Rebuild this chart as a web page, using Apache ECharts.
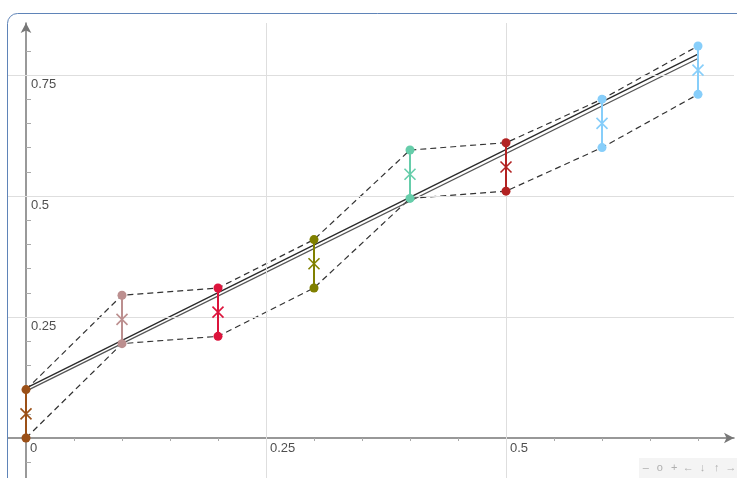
<!DOCTYPE html>
<html>
<head>
<meta charset="utf-8">
<script src="https://cdn.jsdelivr.net/npm/echarts@6/dist/echarts.min.js"></script>
<style>
html,body{margin:0;padding:0;background:#fff;}
#chart{width:737px;height:478px;}
</style>
</head>
<body>
<div id="chart"></div>
<script>
// ---- data ----
const xs    = [0, 0.1, 0.2, 0.3, 0.4, 0.5, 0.6, 0.7];
const upper = [0.1, 0.295, 0.31, 0.41, 0.595, 0.61, 0.70, 0.81];
const lower = [0, 0.195, 0.21, 0.31, 0.495, 0.51, 0.60, 0.71];
const means = [0.05, 0.245, 0.26, 0.36, 0.545, 0.56, 0.65, 0.76];
const colors = ['#9b5017', '#bc8f8f', '#dc143c', '#808000', '#66cdaa', '#b22222', '#87cefa', '#87cefa'];
const lineA = [[0, 0.103], [0.7, 0.793]];
const lineB = [[0, 0.097], [0.7, 0.784]];
const xLabels = [0, 0.25, 0.5];
const yLabels = [0.25, 0.5, 0.75];
const gridX = [0.25, 0.5];
const gridY = [0.25, 0.5, 0.75];
const xMinor = [0, 0.05, 0.1, 0.15, 0.2, 0.25, 0.3, 0.35, 0.4, 0.45, 0.5, 0.55, 0.6, 0.65, 0.7];
const yMinor = [-0.05, 0.05, 0.1, 0.15, 0.2, 0.25, 0.3, 0.35, 0.4, 0.45, 0.5, 0.55, 0.6, 0.65, 0.7, 0.75, 0.8];
const navSymbols = ['\u2013', 'o', '+', '\u2190', '\u2193', '\u2191', '\u2192'];

const upperPts = xs.map((x, i) => [x, upper[i]]);
const lowerPts = xs.map((x, i) => [x, lower[i]]);
const groups = xs.map((x, i) => [x, lower[i], upper[i], means[i]]);
const xLabelPts = xLabels.map(v => [v, 0]);
const yLabelPts = yLabels.map(v => [0, v]);

const chart = echarts.init(document.getElementById('chart'), null, {renderer: 'canvas'});
const font = "'Liberation Sans', Arial, sans-serif";

const navGraphics = [{
  type: 'rect', shape: {x: 639, y: 458, width: 100, height: 20},
  style: {fill: '#f4f4f4'}, z: 100
}].concat(navSymbols.map((s, i) => ({
  type: 'text', x: 645.7 + i * 14.2, y: 467.5, z: 101,
  style: {text: s, fill: '#b0b0b0', font: '11px ' + font, align: 'center', verticalAlign: 'middle'}
})));

const labelStyle = {color: '#222', fontSize: 13, fontFamily: font, align: 'left', verticalAlign: 'top'};

const option = {
  animation: false,
  backgroundColor: '#fff',
  grid: {left: 8, right: 3, top: 23, bottom: 0, containLabel: false, outerBoundsMode: 'none'},
  xAxis: {
    type: 'value', min: -0.01875, max: 0.7375,
    axisLine: {show: true, onZero: true, symbol: ['none', 'arrow'], symbolSize: [8, 10],
               lineStyle: {color: '#777', width: 1.5}},
    axisTick: {show: true, inside: false, length: 3, customValues: xMinor, lineStyle: {color: '#aaa'}},
    axisLabel: {show: false},
    splitLine: {show: false}
  },
  yAxis: {
    type: 'value', min: -0.0826, max: 0.8574,
    axisLine: {show: true, onZero: true, symbol: ['none', 'arrow'], symbolSize: [8, 10],
               lineStyle: {color: '#777', width: 1.5}},
    axisTick: {show: true, inside: true, length: 5, customValues: yMinor, lineStyle: {color: '#aaa'}},
    axisLabel: {show: false},
    splitLine: {show: false}
  },
  graphic: [{
    type: 'rect', shape: {x: 7.5, y: 13.5, width: 900, height: 700, r: 10},
    style: {fill: 'none', stroke: '#5f84b8', lineWidth: 1}, z: 100, silent: true
  }].concat(navGraphics),
  series: [
    {
      type: 'line', data: [], z: 1, silent: true,
      markLine: {
        silent: true, symbol: 'none', label: {show: false}, animation: false,
        lineStyle: {color: '#dedede', type: 'solid', width: 1},
        emphasis: {disabled: true},
        data: gridX.map(v => ({xAxis: v})).concat(gridY.map(v => ({yAxis: v})))
      }
    },
    {
      type: 'line', data: upperPts, showSymbol: false, z: 3, silent: true,
      lineStyle: {color: '#333', width: 1.2, type: [6, 4]}
    },
    {
      type: 'line', data: lowerPts, showSymbol: false, z: 3, silent: true,
      lineStyle: {color: '#333', width: 1.2, type: [6, 4]}
    },
    {
      type: 'line', data: lineA, showSymbol: false, z: 4, silent: true,
      lineStyle: {color: '#2a2a2a', width: 1.3}
    },
    {
      type: 'line', data: lineB, showSymbol: false, z: 4, silent: true,
      lineStyle: {color: '#555', width: 1.3}
    },
    {
      type: 'custom', data: groups, z: 6, silent: true,
      renderItem: function (params, api) {
        const i = params.dataIndex;
        const c = colors[i];
        const x = api.value(0);
        const pLo = api.coord([x, api.value(1)]);
        const pHi = api.coord([x, api.value(2)]);
        const pM = api.coord([x, api.value(3)]);
        const s = 5.5;
        return {
          type: 'group',
          children: [
            {type: 'line', shape: {x1: pLo[0], y1: pLo[1], x2: pHi[0], y2: pHi[1]}, style: {stroke: c, lineWidth: 2}},
            {type: 'line', shape: {x1: pM[0] - s, y1: pM[1] - s, x2: pM[0] + s, y2: pM[1] + s}, style: {stroke: c, lineWidth: 1.6}},
            {type: 'line', shape: {x1: pM[0] - s, y1: pM[1] + s, x2: pM[0] + s, y2: pM[1] - s}, style: {stroke: c, lineWidth: 1.6}},
            {type: 'circle', shape: {cx: pLo[0], cy: pLo[1], r: 4.5}, style: {fill: c}},
            {type: 'circle', shape: {cx: pHi[0], cy: pHi[1], r: 4.5}, style: {fill: c}}
          ]
        };
      }
    },
    {
      type: 'scatter', data: xLabelPts, symbolSize: 1, z: 7, silent: true,
      itemStyle: {color: 'rgba(0,0,0,0)'},
      label: Object.assign({show: true, position: [4.5, 4.5], formatter: p => String(p.value[0])}, labelStyle)
    },
    {
      type: 'scatter', data: yLabelPts, symbolSize: 1, z: 7, silent: true,
      itemStyle: {color: 'rgba(0,0,0,0)'},
      label: Object.assign({show: true, position: [5.5, 3], formatter: p => String(p.value[1])}, labelStyle)
    }
  ]
};
chart.setOption(option);
</script>
</body>
</html>
